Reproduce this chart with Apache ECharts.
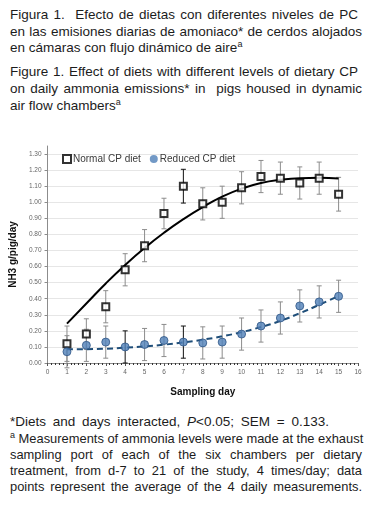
<!DOCTYPE html>
<html>
<head>
<meta charset="utf-8">
<script src="https://cdn.jsdelivr.net/npm/echarts@6/dist/echarts.min.js"></script>
<style>
  body { margin: 0; background: #fff; }
  .page { position: relative; width: 370px; height: 507px; overflow: hidden;
    font-family: "Liberation Sans", Arial, sans-serif; color: #1c1c1c; }
  .cap { position: absolute; left: 10px; width: 351px; font-size: 13.5px; }
  .cap div { text-align: justify; text-align-last: justify; white-space: nowrap; }
  .cap div.last { text-align-last: left; }
  sup { font-size: 9px; line-height: 0; vertical-align: 5px; }
  #chart { position: absolute; left: 0; top: 140px; width: 370px; height: 262px; }
</style>
</head>
<body>
<div class="page">
  <div class="cap" style="top:7px; line-height:16.6px; width:348px">
    <div>Figura 1.&nbsp; Efecto de dietas con diferentes niveles de PC</div>
    <div style="width:352px">en las emisiones diarias de amoniaco* de cerdos alojados</div>
    <div class="last">en cámaras con flujo dinámico de aire<sup>a</sup></div>
  </div>
  <div class="cap" style="top:64px; line-height:16.8px; width:348px">
    <div>Figure 1. Effect of diets with different levels of dietary CP</div>
    <div style="width:352px">on daily ammonia emissions* in&nbsp; pigs housed in dynamic</div>
    <div class="last">air flow chambers<sup>a</sup></div>
  </div>
  <div class="cap" style="top:414px; line-height:15.5px">
    <div class="last" style="word-spacing:3px">*Diets and days interacted, <i>P</i>&lt;0.05; SEM = 0.133.</div>
  </div>
  <div class="cap" style="top:431px; line-height:15.9px; width:352px; font-size:12.9px">
    <div><sup>a</sup> Measurements of ammonia levels were made at the exhaust</div>
    <div>sampling port of each of the six chambers per dietary</div>
    <div>treatment, from d-7 to 21 of the study, 4 times/day; data</div>
    <div>points represent the average of the 4 daily measurements.</div>
  </div>
  <div id="chart"></div>
</div>
<script>
// sampling days
const days = [1, 2, 3, 4, 5, 6, 7, 8, 9, 10, 11, 12, 13, 14, 15];
// mean NH3 (g/pig/day)
const normalCP = [0.12, 0.18, 0.35, 0.58, 0.73, 0.93, 1.10, 0.99, 1.00, 1.09, 1.16, 1.15, 1.12, 1.15, 1.05];
const reducedCP = [0.07, 0.11, 0.13, 0.10, 0.115, 0.14, 0.13, 0.125, 0.13, 0.18, 0.23, 0.28, 0.355, 0.38, 0.415];
// half-length of the error bars
const normalErr = [0.11, 0.095, 0.10, 0.10, 0.10, 0.095, 0.105, 0.10, 0.10, 0.10, 0.10, 0.10, 0.10, 0.10, 0.105];
const reducedErr = [0.10, 0.10, 0.10, 0.10, 0.10, 0.10, 0.10, 0.10, 0.10, 0.10, 0.10, 0.10, 0.10, 0.10, 0.10];
// fitted trend lines
const normalTrend = [0.245, 0.37, 0.495, 0.61, 0.715, 0.81, 0.895, 0.97, 1.035, 1.085, 1.12, 1.14, 1.15, 1.152, 1.148];
const reducedTrend = [0.085, 0.086, 0.089, 0.095, 0.103, 0.114, 0.128, 0.145, 0.166, 0.192, 0.224, 0.262, 0.31, 0.362, 0.417];
const yTicks = [0, 1.35, 0.1]; // labels stop at 1.30, axis line runs a bit higher
const xTicks = [0, 16, 1];

const FONT = "Liberation Sans";
const darkBars = { normal: [7], reduced: [4, 7] }; // bars drawn black in the original

function errSeries(vals, errs, dark) {
  return {
    type: "custom",
    silent: true,
    z: 1,
    data: days.map((d, i) => [d, vals[i], errs[i]]),
    renderItem: function (params, api) {
      const x = api.value(0), y = api.value(1), e = api.value(2);
      const hi = api.coord([x, y + e]);
      const lo = api.coord([x, y - e]);
      const stroke = dark.indexOf(x) >= 0 ? "#111" : "#8c8c8c";
      const style = { stroke: stroke, lineWidth: 1 };
      const c = 2.5;
      return {
        type: "group",
        children: [
          { type: "line", shape: { x1: hi[0], y1: hi[1], x2: lo[0], y2: lo[1] }, style: style },
          { type: "line", shape: { x1: hi[0] - c, y1: hi[1], x2: hi[0] + c, y2: hi[1] }, style: style },
          { type: "line", shape: { x1: lo[0] - c, y1: lo[1], x2: lo[0] + c, y2: lo[1] }, style: style },
        ],
      };
    },
  };
}

const chart = echarts.init(document.getElementById("chart"));
const option = {
  animation: false,
  textStyle: { fontFamily: FONT },
  grid: { left: 43, right: 12, top: 6, bottom: 32 },
  legend: {
    data: [
      { name: "Normal CP diet" },
      { name: "Reduced CP diet", itemStyle: { borderWidth: 0 } },
    ],
    left: 57,
    top: 9,
    itemWidth: 8,
    itemHeight: 8,
    itemGap: 9,
    textStyle: { fontFamily: FONT, fontSize: 10, color: "#3a3a3a", padding: [0, 0, 0, -3] },
  },
  xAxis: {
    type: "value",
    min: xTicks[0],
    max: xTicks[1],
    interval: xTicks[2],
    name: "Sampling day",
    nameLocation: "middle",
    nameGap: 24,
    nameTextStyle: { fontFamily: FONT, fontSize: 10, fontWeight: "bold", color: "#111" },
    axisLine: { lineStyle: { color: "#8c8c8c", width: 1 } },
    axisTick: { show: true, length: 3, inside: false, lineStyle: { color: "#555" } },
    minorTick: { show: true, splitNumber: 5, length: 2, lineStyle: { color: "#333" } },
    axisLabel: { fontSize: 6.5, color: "#666", margin: 6 },
    splitLine: { show: false },
  },
  yAxis: {
    type: "value",
    min: yTicks[0],
    max: yTicks[1],
    interval: yTicks[2],
    name: "NH3 g/pig/day",
    nameLocation: "middle",
    nameGap: 29,
    nameTextStyle: { fontFamily: FONT, fontSize: 10, fontWeight: "bold", color: "#111" },
    axisLine: { show: true, lineStyle: { color: "#8c8c8c", width: 1 } },
    axisTick: { show: true, length: 3, lineStyle: { color: "#8c8c8c" } },
    axisLabel: {
      fontSize: 6.5,
      color: "#666",
      margin: 6,
      showMaxLabel: false,
      formatter: (v) => v.toFixed(2),
    },
    splitLine: { showMaxLine: false, lineStyle: { color: "#e6e6e6", width: 1 } },
  },
  series: [
    errSeries(normalCP, normalErr, darkBars.normal),
    errSeries(reducedCP, reducedErr, darkBars.reduced),
    {
      type: "line",
      silent: true,
      z: 2,
      smooth: true,
      showSymbol: false,
      data: days.map((d, i) => [d, normalTrend[i]]),
      lineStyle: { color: "#000", width: 2 },
    },
    {
      type: "line",
      silent: true,
      z: 2,
      smooth: true,
      showSymbol: false,
      data: days.map((d, i) => [d, reducedTrend[i]]),
      lineStyle: { color: "#1f4e79", width: 2, type: [6, 4] },
    },
    {
      name: "Normal CP diet",
      type: "scatter",
      z: 3,
      symbol: "rect",
      symbolSize: 7,
      data: days.map((d, i) => [d, normalCP[i]]),
      itemStyle: { color: "#fff", borderColor: "#000", borderWidth: 2 },
    },
    {
      name: "Reduced CP diet",
      type: "scatter",
      z: 3,
      symbol: "circle",
      symbolSize: 8,
      data: days.map((d, i) => [d, reducedCP[i]]),
      itemStyle: { color: "#4f7fb8", borderColor: "#2e5586", borderWidth: 1 },
    },
  ],
};
chart.setOption(option);
</script>
</body>
</html>
